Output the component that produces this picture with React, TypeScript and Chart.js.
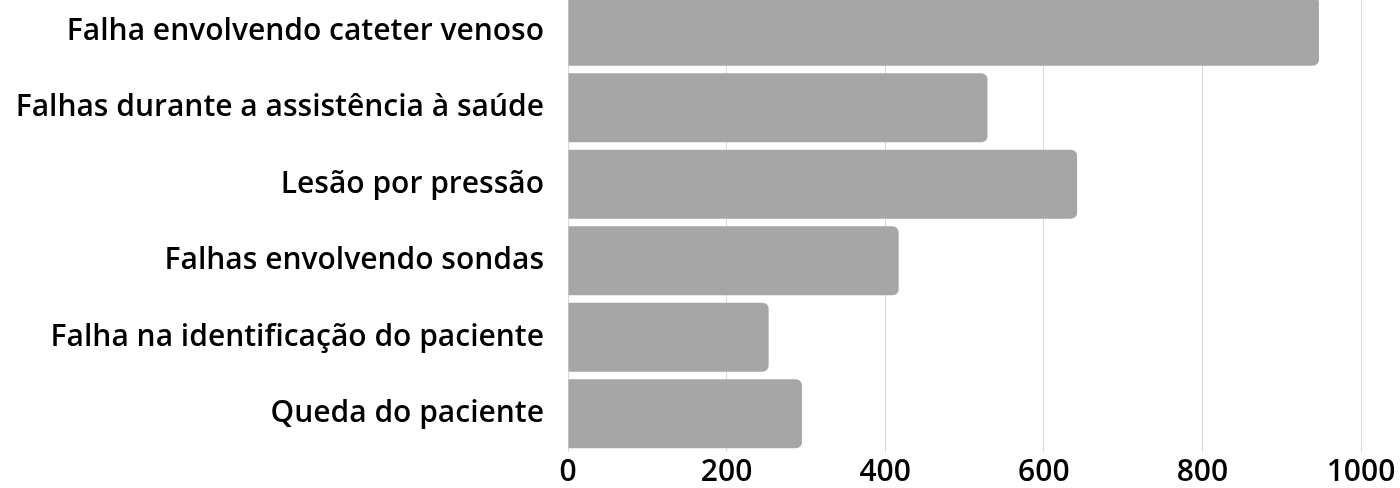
import React, { useEffect, useRef } from "react";
import { Chart, registerables } from "chart.js";

Chart.register(...registerables);

const categories = [
  "Falha envolvendo cateter venoso",
  "Falhas durante a assistência à saúde",
  "Lesão por pressão",
  "Falhas envolvendo sondas",
  "Falha na identificação do paciente",
  "Queda do paciente",
];
const values = [947, 529, 642, 417, 253, 295];
const xTicks = [0, 200, 400, 600, 800, 1000];

export default function App() {
  const ref = useRef<HTMLCanvasElement | null>(null);
  useEffect(() => {
    if (!ref.current) return;
    const chart = new Chart(ref.current, {
      type: "bar",
      data: {
        labels: categories,
        datasets: [
          {
            data: values,
            backgroundColor: "#a6a6a6",
            borderRadius: { topLeft: 0, bottomLeft: 0, topRight: 6, bottomRight: 6 },
            borderSkipped: false,
            barPercentage: 0.902,
            categoryPercentage: 1,
          },
        ],
      },
      options: {
        indexAxis: "y",
        animation: false,
        responsive: false,
        devicePixelRatio: 1,
        layout: { padding: { top: 0, right: 39, left: 0, bottom: 0 } },
        plugins: { legend: { display: false }, tooltip: { enabled: false } },
        scales: {
          x: {
            min: 0,
            max: 1000,
            afterBuildTicks: (scale: any) => {
              scale.ticks = xTicks.map((v) => ({ value: v }));
            },
            afterFit: (scale: any) => {
              scale.height = 41;
              scale.paddingLeft = 0;
            },
            grid: { color: "#d9d9d9", drawTicks: false, lineWidth: 1 },
            border: { display: false },
            ticks: {
              color: "#000000",
              padding: 2,
              callback: (v: any) => String(v),
              font: { family: "Open Sans", size: 30, weight: "600" },
            },
          },
          y: {
            afterFit: (scale: any) => {
              scale.width = 568;
              scale.paddingTop = 0;
              scale.paddingBottom = 0;
            },
            grid: { display: false, drawTicks: false },
            border: { display: false },
            ticks: {
              color: "#000000",
              padding: 24,
              font: { family: "Open Sans", size: 30, weight: "600" },
            },
          },
        },
      },
    });
    return () => chart.destroy();
  }, []);
  return (
    <div style={{ position: "fixed", left: 0, top: -7, width: 1400, height: 500 }}>
      <canvas ref={ref} width={1400} height={500} style={{ display: "block" }} />
    </div>
  );
}
